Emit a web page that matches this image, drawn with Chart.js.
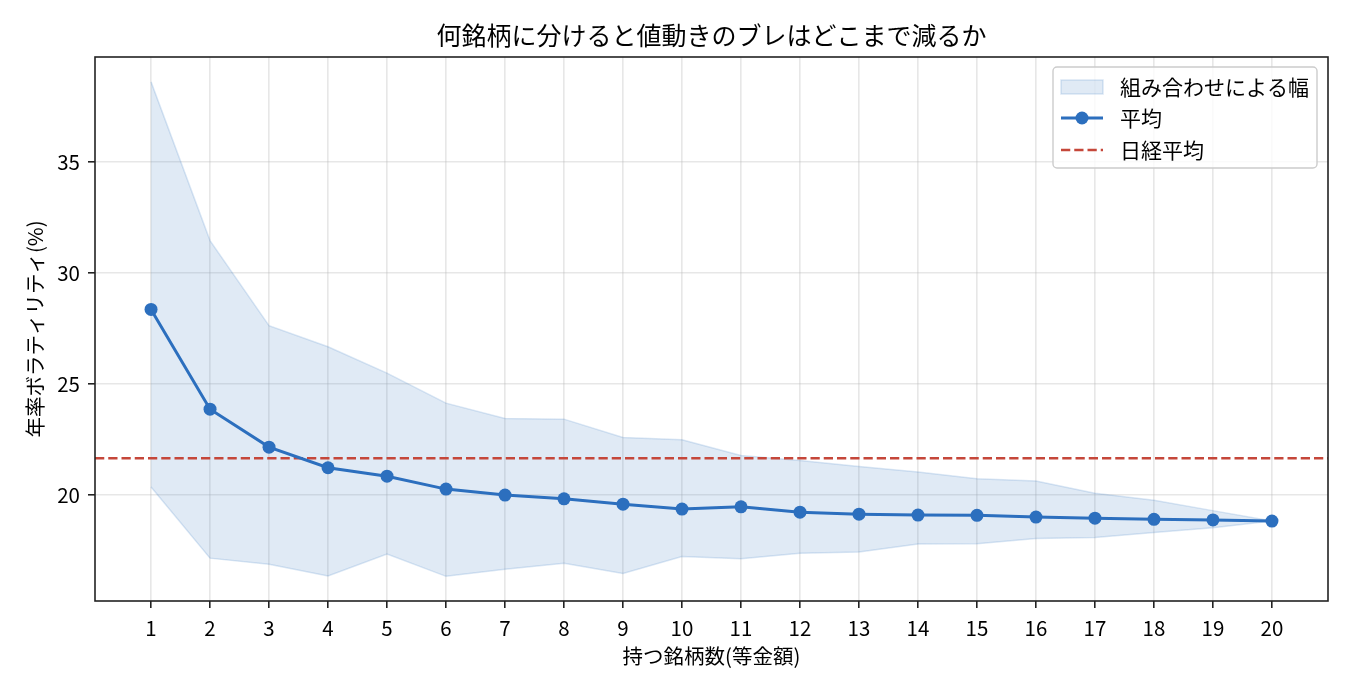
<!DOCTYPE html>
<html>
<head>
<meta charset="utf-8">
<script src="https://cdn.jsdelivr.net/npm/chart.js@4/dist/chart.umd.min.js"></script>
<style>
  html, body { margin: 0; padding: 0; background: #fff; }
  #wrap { width: 1350px; height: 690px; }
</style>
</head>
<body>
<div id="wrap"><canvas id="c" width="1350" height="690"></canvas></div>
<script>
// ---- data ----
const stockCounts = [1,2,3,4,5,6,7,8,9,10,11,12,13,14,15,16,17,18,19,20];
const meanVol  = [28.35,23.86,22.15,21.22,20.84,20.26,19.99,19.82,19.58,19.36,19.46,19.22,19.13,19.09,19.08,19.00,18.95,18.90,18.87,18.82];
const upperVol = [38.60,31.45,27.62,26.67,25.48,24.13,23.44,23.41,22.58,22.48,21.77,21.55,21.28,21.03,20.73,20.62,20.07,19.76,19.29,18.82];
const lowerVol = [20.35,17.15,16.87,16.35,17.34,16.33,16.65,16.92,16.46,17.22,17.12,17.37,17.43,17.79,17.80,18.03,18.08,18.30,18.52,18.82];
const nikkeiVol = 21.65;
const yTicks = [20, 25, 30, 35];
const xRange = [0.05, 20.95];
const yRange = [15.22, 39.72];

const labels = {
  title: '何銘柄に分けると値動きのブレはどこまで減るか',
  xTitle: '持つ銘柄数(等金額)',
  yTitle: '年率ボラティリティ(%)',
  band: '組み合わせによる幅',
  mean: '平均',
  nikkei: '日経平均'
};

const FONT = "'Noto Sans CJK JP', 'Noto Sans', sans-serif";
const WEIGHT = 'normal';
const BLUE = '#2c6fbe';
const BAND_FILL = 'rgba(44,111,190,0.15)';
const BAND_EDGE = 'rgba(44,111,190,0.17)';
const RED = '#c5473a';
const DASH = [9.25, 4];

Chart.defaults.font.family = FONT;
Chart.defaults.font.weight = WEIGHT;
Chart.defaults.color = '#000';

const pts = (ys) => stockCounts.map((x, i) => ({ x: x, y: ys[i] }));

// frame + matplotlib-style legend
const framePlugin = {
  id: 'frameLegend',
  afterDraw(chart) {
    const { ctx, chartArea: a } = chart;
    ctx.save();
    ctx.strokeStyle = '#222';
    ctx.lineWidth = 1.6;
    ctx.strokeRect(a.left, a.top, a.right - a.left, a.bottom - a.top);

    // legend box
    const bx = a.right - 275, by = a.top + 10, bw = 264, bh = 101, r = 4;
    ctx.beginPath();
    ctx.moveTo(bx + r, by);
    ctx.arcTo(bx + bw, by, bx + bw, by + bh, r);
    ctx.arcTo(bx + bw, by + bh, bx, by + bh, r);
    ctx.arcTo(bx, by + bh, bx, by, r);
    ctx.arcTo(bx, by, bx + bw, by, r);
    ctx.closePath();
    ctx.fillStyle = 'rgba(255,255,255,0.8)';
    ctx.fill();
    ctx.strokeStyle = '#cccccc';
    ctx.lineWidth = 1.4;
    ctx.stroke();

    const ds = chart.data.datasets;
    const hx0 = bx + 8, hx1 = bx + 50, tx = bx + 67;
    const rows = [by + 20, by + 51, by + 83];

    // band patch
    ctx.fillStyle = BAND_FILL;
    ctx.fillRect(hx0, rows[0] - 7, hx1 - hx0, 14);
    ctx.strokeStyle = BAND_EDGE;
    ctx.lineWidth = 1.5;
    ctx.strokeRect(hx0, rows[0] - 7, hx1 - hx0, 14);

    // mean line + marker
    ctx.strokeStyle = BLUE;
    ctx.lineWidth = 3;
    ctx.beginPath(); ctx.moveTo(hx0, rows[1]); ctx.lineTo(hx1, rows[1]); ctx.stroke();
    ctx.fillStyle = BLUE;
    ctx.beginPath(); ctx.arc((hx0 + hx1) / 2, rows[1], 6.5, 0, Math.PI * 2); ctx.fill();

    // nikkei dashed
    ctx.strokeStyle = RED;
    ctx.lineWidth = 2.5;
    ctx.setLineDash(DASH);
    ctx.beginPath(); ctx.moveTo(hx0, rows[2]); ctx.lineTo(hx1, rows[2]); ctx.stroke();
    ctx.setLineDash([]);

    ctx.fillStyle = '#000';
    ctx.font = WEIGHT + ' 21px ' + FONT;
    ctx.textBaseline = 'middle';
    ctx.textAlign = 'left';
    const names = [ds[1].label, ds[2].label, ds[3].label];
    names.forEach((n, i) => ctx.fillText(n, tx, rows[i]));
    ctx.restore();
  }
};

new Chart(document.getElementById('c'), {
  type: 'line',
  data: {
    datasets: [
      { label: labels.band + '(下限)', data: pts(lowerVol), borderColor: BAND_EDGE, borderWidth: 1.5,
        pointRadius: 0, fill: false, order: 3, tension: 0 },
      { label: labels.band, data: pts(upperVol), borderColor: BAND_EDGE, borderWidth: 1.5,
        backgroundColor: BAND_FILL, pointRadius: 0, fill: '-1', order: 2, tension: 0 },
      { label: labels.mean, data: pts(meanVol), borderColor: BLUE, backgroundColor: BLUE,
        borderWidth: 3, pointRadius: 6.5, pointHoverRadius: 6.5, pointBorderWidth: 0,
        fill: false, order: 0, tension: 0 },
      { label: labels.nikkei, data: [{ x: xRange[0], y: nikkeiVol }, { x: xRange[1], y: nikkeiVol }],
        borderColor: RED, borderWidth: 2.5, borderDash: DASH, pointRadius: 0, fill: false, order: 1 }
    ]
  },
  options: {
    responsive: false,
    animation: false,
    devicePixelRatio: 1,
    layout: { padding: { left: 0, right: 22, top: 0, bottom: 0 } },
    plugins: {
      legend: { display: false },
      tooltip: { enabled: false },
      title: {
        display: true, text: labels.title, fullSize: false,
        font: { size: 25, weight: WEIGHT, family: FONT }, color: '#000',
        padding: { top: 20, bottom: 7 }
      }
    },
    scales: {
      x: {
        type: 'linear', min: xRange[0], max: xRange[1],
        afterBuildTicks: (s) => { s.ticks = stockCounts.map(v => ({ value: v })); },
        afterFit: (s) => { s.height = 89; },
        ticks: { font: { size: 20.5, weight: WEIGHT }, color: '#000', padding: 8, autoSkip: false, maxRotation: 0,
                 callback: (v) => String(v) },
        grid: { color: 'rgba(176,176,176,0.3)', lineWidth: 1.6, tickColor: '#222', tickWidth: 1.6, tickLength: 7 },
        border: { display: false },
        title: { display: true, text: labels.xTitle, font: { size: 20.5, weight: WEIGHT }, color: '#000', padding: { top: 0, bottom: 21 } }
      },
      y: {
        type: 'linear', min: yRange[0], max: yRange[1],
        afterBuildTicks: (s) => { s.ticks = yTicks.map(v => ({ value: v })); },
        afterFit: (s) => { s.width = 95; },
        ticks: { font: { size: 20.5, weight: WEIGHT }, color: '#000', padding: 8, callback: (v) => String(v) },
        grid: { color: 'rgba(176,176,176,0.3)', lineWidth: 1.6, tickColor: '#222', tickWidth: 1.6, tickLength: 7 },
        border: { display: false },
        title: { display: true, text: labels.yTitle, font: { size: 20.5, weight: WEIGHT }, color: '#000', padding: { top: 23, bottom: 0 } }
      }
    }
  },
  plugins: [framePlugin]
});
</script>
</body>
</html>
